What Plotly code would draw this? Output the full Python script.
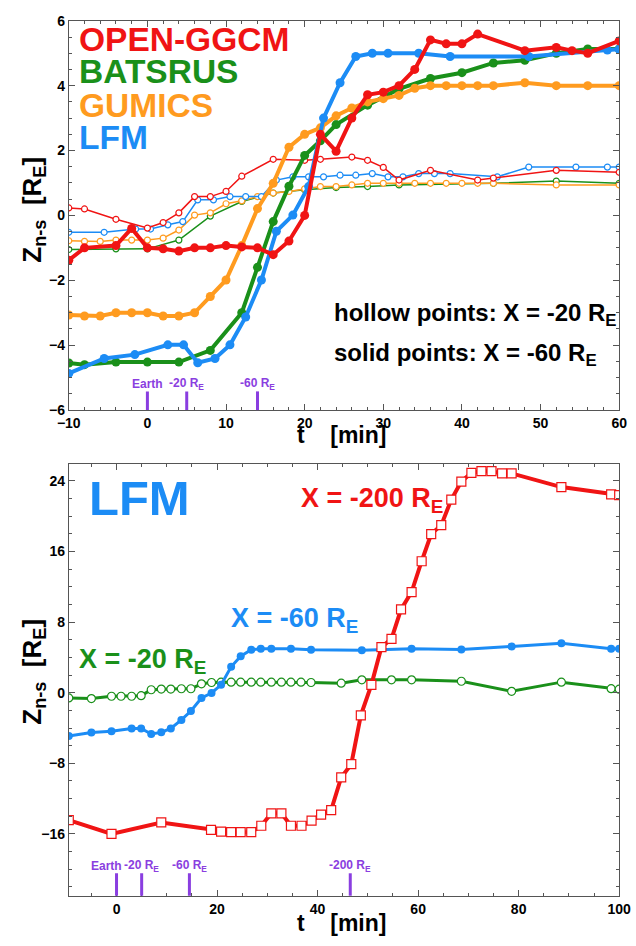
import plotly.graph_objects as go

# ---------------- data: top panel (X = -60 RE solid, X = -20 RE hollow) ----------------
t_ggcm60 = [-10, -8, -4, -2, 0, 2, 4, 6, 8, 10, 12, 14, 16, 18, 20, 22, 24, 26, 28, 30, 32, 34, 36, 38, 40, 42, 48, 52, 54, 56, 60]
z_ggcm60 = [-1.38, -1.0, -0.93, -0.4, -1.0, -1.03, -1.1, -1.0, -1.0, -0.93, -0.97, -1.0, -1.21, -0.79, 0.0, 2.5, 1.98, 3.0, 3.72, 3.8, 4.0, 4.5, 5.41, 5.29, 5.29, 5.59, 5.08, 5.18, 5.08, 5.0, 5.38]

t_bats60 = [-10, -8, -4, 0, 4, 8, 12, 14, 16, 18, 20, 22, 24, 28, 32, 36, 40, 44, 48, 52, 56, 60]
z_bats60 = [-4.55, -4.6, -4.52, -4.52, -4.52, -4.16, -3.0, -1.6, -0.19, 0.9, 1.85, 2.3, 2.8, 3.4, 3.9, 4.22, 4.4, 4.7, 4.78, 5.0, 5.13, 5.13]

t_gum60 = [-10, -8, -6, -4, -2, 0, 2, 4, 6, 8, 10, 12, 14, 16, 18, 20, 22, 24, 26, 28, 30, 32, 34, 36, 38, 40, 42, 44, 48, 52, 56, 60]
z_gum60 = [-3.07, -3.1, -3.1, -3.0, -3.0, -3.0, -3.1, -3.1, -3.0, -2.5, -1.99, -0.93, 0.21, 0.99, 2.1, 2.5, 2.7, 3.07, 3.31, 3.5, 3.6, 3.7, 3.92, 4.0, 4.0, 4.0, 4.0, 4.0, 4.09, 4.0, 4.0, 4.0]

t_lfm60 = [-10, -5.5, -1.6, 2.6, 4.6, 6.4, 8.6, 10.5, 12.5, 14.5, 16.4, 18.5, 20.5, 22.4, 24.5, 26.5, 28.6, 30.6, 34.5, 38.5, 48.5, 58.5, 60]
z_lfm60 = [-4.87, -4.41, -4.29, -3.99, -3.99, -4.54, -4.41, -3.99, -3.13, -1.99, -0.49, 0.01, 0.89, 3.0, 4.09, 4.9, 5.0, 5.0, 5.0, 4.9, 4.9, 5.1, 5.12]

t_ggcm20 = [-10, -8, -4, 0, 2, 4, 6, 8, 10, 12, 16, 20, 22, 26, 28, 30, 32, 36, 42, 44, 52, 60]
z_ggcm20 = [0.23, 0.2, -0.12, -0.39, -0.22, 0.08, 0.58, 0.58, 0.74, 1.21, 1.73, 1.7, 1.73, 1.8, 1.7, 1.48, 1.09, 1.39, 1.09, 1.15, 1.39, 1.33]

t_bats20 = [-10, -4, 0, 4, 8, 12, 16, 20, 24, 28, 32, 44, 52, 60]
z_bats20 = [-1.05, -1.03, -1.03, -0.76, -0.02, 0.43, 0.69, 0.79, 0.86, 0.89, 0.94, 0.99, 1.06, 0.99]

t_gum20 = [-10, -8, -6, -4, -2, 0, 2, 4, 6, 8, 10, 12, 14, 16, 18, 20, 22, 24, 26, 28, 30, 32, 34, 36, 38, 40, 42, 44, 52, 60]
z_gum20 = [-0.78, -0.8, -0.8, -0.76, -0.76, -0.76, -0.7, -0.45, 0.01, 0.08, 0.36, 0.45, 0.58, 0.69, 0.74, 0.82, 0.89, 0.89, 0.94, 0.99, 0.99, 0.99, 0.99, 0.99, 0.99, 0.99, 0.99, 0.99, 0.94, 0.94]

t_lfm20 = [-10, -5.5, -1.5, 0.4, 2.6, 4.5, 6.4, 8.4, 10.5, 12.5, 14.5, 16.4, 18.5, 20.5, 22.4, 24.5, 26.5, 28.6, 30.6, 32.5, 34.5, 36.5, 38.5, 44.5, 48.5, 54.5, 58.5, 60]
z_lfm20 = [-0.52, -0.52, -0.42, -0.42, -0.29, -0.19, 0.48, 0.48, 0.58, 0.58, 0.58, 1.09, 1.19, 1.19, 1.19, 1.24, 1.24, 1.29, 1.19, 1.19, 1.29, 1.29, 1.29, 1.19, 1.49, 1.49, 1.49, 1.49]

# ---------------- data: bottom panel (LFM at three distances) ----------------
t_lfm60b = [-9.5, -5.0, -1.0, 3.0, 4.9, 6.9, 8.9, 10.8, 12.9, 14.8, 16.9, 18.9, 20.8, 22.8, 24.7, 26.8, 28.7, 30.8, 34.7, 38.7, 48.8, 58.7, 68.6, 78.6, 88.5, 98.4, 100]
z_lfm60b = [-4.9, -4.5, -4.37, -4.04, -4.04, -4.67, -4.49, -4.04, -3.08, -2.07, -0.59, -0.03, 0.9, 2.94, 4.13, 4.87, 4.98, 4.98, 4.98, 4.87, 4.8, 4.98, 4.9, 5.25, 5.6, 4.98, 4.98]

t_lfm20b = [-9.5, -5.0, -1.0, 0.9, 3.0, 4.9, 6.9, 8.9, 10.8, 12.9, 14.8, 16.9, 18.9, 20.8, 22.8, 24.7, 26.8, 28.7, 30.8, 32.8, 34.7, 36.7, 38.7, 44.7, 48.8, 54.7, 58.7, 68.6, 78.6, 88.5, 98.4, 100]
z_lfm20b = [-0.59, -0.66, -0.4, -0.4, -0.4, -0.33, 0.34, 0.42, 0.42, 0.45, 0.45, 1.01, 1.16, 1.2, 1.2, 1.2, 1.2, 1.2, 1.2, 1.2, 1.2, 1.2, 1.16, 1.08, 1.46, 1.46, 1.46, 1.3, 0.16, 1.2, 0.46, 0.4]

t_lfm200 = [-9.5, -1.0, 8.9, 18.8, 20.8, 22.8, 24.7, 26.8, 28.8, 30.8, 32.8, 34.7, 36.8, 38.8, 40.7, 42.7, 44.7, 46.7, 48.6, 50.7, 52.7, 54.7, 56.6, 58.7, 60.7, 62.6, 64.6, 66.6, 68.6, 70.6, 72.6, 74.6, 76.7, 78.6, 88.5, 98.4, 100]
z_lfm200 = [-14.43, -16.0, -14.7, -15.55, -15.74, -15.8, -15.8, -15.8, -15.07, -13.66, -13.66, -15.07, -15.07, -14.5, -13.8, -13.3, -9.6, -8.1, -2.56, 0.9, 5.17, 6.1, 9.44, 11.41, 14.9, 17.98, 18.99, 21.88, 23.92, 24.92, 25.1, 25.1, 24.85, 24.85, 23.3, 22.47, 22.4]

# event markers (arrival times)
event_t_top = [0, 5, 14]
event_lbl_top = ["Earth", "-20 R<sub>E</sub>", "-60 R<sub>E</sub>"]
event_t_bot = [0, 5, 14.5, 46.5]
event_lbl_bot = ["Earth", "-20 R<sub>E</sub>", "-60 R<sub>E</sub>", "-200 R<sub>E</sub>"]
event_shift_bot = [-10, 0, 0, 0]

# ---------------- styling ----------------
W, H = 636, 946
RED, GREEN, ORANGE, BLUE = "#f01414", "#1a901a", "#ff9b1f", "#1c8cf5"
PURPLE = "#8a3ee0"
FONT = "Liberation Sans"


def px(x):
    return x / W


def py(y):
    return 1 - y / H


fig = go.Figure()


def hollow(t, z, color, xa, ya, lw=1.5, ms=6):
    fig.add_trace(go.Scatter(x=t, y=z, xaxis=xa, yaxis=ya, mode="lines+markers",
                             line=dict(color=color, width=lw),
                             marker=dict(symbol="circle", size=ms, color="white",
                                         line=dict(color=color, width=1.2)),
                             showlegend=False))


def solid(t, z, color, xa, ya, lw=4, ms=9):
    fig.add_trace(go.Scatter(x=t, y=z, xaxis=xa, yaxis=ya, mode="lines+markers",
                             line=dict(color=color, width=lw),
                             marker=dict(symbol="circle", size=ms, color=color),
                             showlegend=False))


# top panel
hollow(t_bats20, z_bats20, GREEN, "x", "y")
hollow(t_gum20, z_gum20, ORANGE, "x", "y")
hollow(t_lfm20, z_lfm20, BLUE, "x", "y")
hollow(t_ggcm20, z_ggcm20, RED, "x", "y")
solid(t_bats60, z_bats60, GREEN, "x", "y")
solid(t_gum60, z_gum60, ORANGE, "x", "y")
solid(t_lfm60, z_lfm60, BLUE, "x", "y")
solid(t_ggcm60, z_ggcm60, RED, "x", "y")

# bottom panel
hollow(t_lfm20b, z_lfm20b, GREEN, "x2", "y2", lw=3, ms=8)
solid(t_lfm60b, z_lfm60b, BLUE, "x2", "y2", lw=3, ms=8)
fig.add_trace(go.Scatter(x=t_lfm200, y=z_lfm200, xaxis="x2", yaxis="y2", mode="lines+markers",
                         line=dict(color=RED, width=4),
                         marker=dict(symbol="square", size=9, color="white",
                                     line=dict(color=RED, width=1.2)),
                         showlegend=False))

tickfont = dict(family=FONT, size=14, color="black", weight="bold")
axcommon = dict(showgrid=False, zeroline=False, showline=True, linecolor="#555",
                linewidth=1, mirror="allticks", ticks="inside", ticklen=6,
                tickcolor="#555", tickfont=tickfont, ticklabeloverflow="allow")

xdom = [px(59), px(631)]
fig.update_layout(
    width=W, height=H, margin=dict(l=0, r=0, t=0, b=0),
    paper_bgcolor="white", plot_bgcolor="white",
    xaxis=dict(domain=xdom, range=[-10, 60], dtick=10, anchor="y",
               minor=dict(dtick=2, ticks="inside", ticklen=3, tickcolor="#555"), **axcommon),
    yaxis=dict(domain=[py(409), py(13)], range=[-6, 6], dtick=2, anchor="x",
               minor=dict(dtick=0.5, ticks="inside", ticklen=3, tickcolor="#555"), **axcommon),
    xaxis2=dict(domain=xdom, range=[-9.5, 100], tick0=0, dtick=20, anchor="y2",
                minor=dict(dtick=5, ticks="inside", ticklen=3, tickcolor="#555"), **axcommon),
    yaxis2=dict(domain=[py(903), py(464)], range=[-23, 25.9], tick0=0, dtick=8, anchor="x2",
                minor=dict(dtick=2, ticks="inside", ticklen=3, tickcolor="#555"), **axcommon),
)

ann = []


def text(s, x, y, size, color="black", xanchor="left", angle=0):
    ann.append(dict(text=s, x=px(x), y=py(y), xref="paper", yref="paper",
                    xanchor=xanchor, yanchor="middle", showarrow=False, textangle=angle,
                    font=dict(family=FONT, size=size, color=color, weight="bold")))


# top panel labels
text("OPEN-GGCM", 68, 32, 33.5, RED)
text("BATSRUS", 68, 65, 33.5, GREEN)
text("GUMICS", 68, 99, 33.5, ORANGE)
text("LFM", 68, 132, 33.5, BLUE)
text("hollow points: X = -20 R<sub>E</sub>", 333, 312, 24)
text("solid points: X = -60 R<sub>E</sub>", 333, 352, 24)
text("Z<sub>n-s</sub>\u00a0\u00a0[R<sub>E</sub>]", 22, 205, 26, angle=-90, xanchor="center")
text("t\u00a0\u00a0\u00a0\u00a0[min]", 342, 434, 23, xanchor="center")

# bottom panel labels
text("LFM", 78, 498, 49, BLUE)
text("X = -200 R<sub>E</sub>", 298, 500, 27, RED)
text("X = -60 R<sub>E</sub>", 226, 623, 27, BLUE)
text("X = -20 R<sub>E</sub>", 68, 664, 27, GREEN)
text("Z<sub>n-s</sub>\u00a0\u00a0[R<sub>E</sub>]", 22, 675, 26, angle=-90, xanchor="center")
text("t\u00a0\u00a0\u00a0\u00a0[min]", 342, 931, 23, xanchor="center")

shapes = []
for t, lbl in zip(event_t_top, event_lbl_top):
    shapes.append(dict(type="line", xref="x", yref="y domain", x0=t, x1=t, y0=0, y1=0.048,
                       line=dict(color=PURPLE, width=3)))
    ann.append(dict(text=lbl, x=t, y=py(382), xref="x", yref="paper", xanchor="center",
                    yanchor="middle", showarrow=False,
                    font=dict(family=FONT, size=12, color=PURPLE, weight="bold")))
for t, lbl, sh in zip(event_t_bot, event_lbl_bot, event_shift_bot):
    shapes.append(dict(type="line", xref="x2", yref="y2 domain", x0=t, x1=t, y0=0, y1=0.052,
                       line=dict(color=PURPLE, width=3)))
    ann.append(dict(text=lbl, x=t, y=py(873), xref="x2", yref="paper", xanchor="center",
                    yanchor="middle", showarrow=False, xshift=sh,
                    font=dict(family=FONT, size=12, color=PURPLE, weight="bold")))

fig.update_layout(annotations=ann, shapes=shapes)
fig.write_html("out.html", post_script="document.body.style.margin='0';")
